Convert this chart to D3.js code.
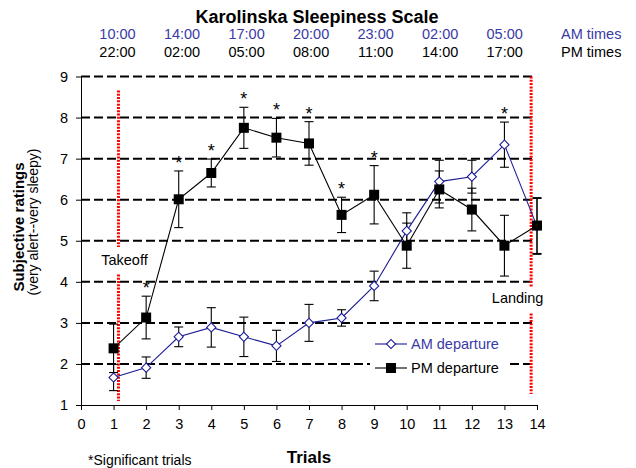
<!DOCTYPE html>
<html>
<head>
<meta charset="utf-8">
<script src="https://cdn.jsdelivr.net/npm/d3@7/dist/d3.min.js"></script>
<style>
  body { margin: 0; background: #fff; }
  svg { display: block; font-family: "Liberation Sans", Arial, sans-serif; }
</style>
</head>
<body>
<svg id="chart" width="636" height="468"></svg>
<script>
const trials = [1,2,3,4,5,6,7,8,9,10,11,12,13,14];
const amMean = [1.67,1.91,2.66,2.89,2.66,2.44,3.0,3.12,3.9,5.24,6.44,6.56,7.34,5.35];
const amErr  = [0.32,0.26,0.24,0.48,0.48,0.38,0.45,0.2,0.36,0.44,0.52,0.4,0.55,0.68];
const pmMean = [2.38,3.13,6.01,6.65,7.75,7.51,7.37,5.63,6.12,4.88,6.25,5.76,4.88,5.37];
const pmErr  = [0.59,0.52,0.69,0.34,0.5,0.47,0.53,0.43,0.71,0.55,0.45,0.52,0.74,0.68];
const sigTrials = [2,3,4,5,6,7,8,9,13];
const amTimes = ["10:00","14:00","17:00","20:00","23:00","02:00","05:00"];
const pmTimes = ["22:00","02:00","05:00","08:00","11:00","14:00","17:00"];
const xTicks = [0,1,2,3,4,5,6,7,8,9,10,11,12,13,14];
const yTicks = [1,2,3,4,5,6,7,8,9];
const gridValues = [2,3,4,5,6,7,8,9];
const events = [
  {name:"Takeoff", trial:1.15, segs:[[8.66,4.85],[4.18,1.1]], label:4.4},
  {name:"Landing", trial:13.82, segs:[[9,3.88],[3.23,1.27]], label:3.48}
];

const svg = d3.select("#chart");
const x = d3.scaleLinear().domain([0,14]).range([81,537]);
const y = d3.scaleLinear().domain([1,9]).range([405,76.5]);
const amColor = "#1c1c96";
const amText = "#3a3aa6";

// Title
svg.append("text").attr("x",317).attr("y",23).attr("text-anchor","middle")
  .attr("font-size",18).attr("font-weight","bold").text("Karolinska Sleepiness Scale");

// Times rows
const tx = d3.scalePoint().domain(d3.range(amTimes.length)).range([117.5,504.7]);
svg.append("g").selectAll("text").data(amTimes).join("text")
  .attr("x",(d,i)=>tx(i)).attr("y",39).attr("text-anchor","middle")
  .attr("font-size",14.5).attr("fill",amText).text(d=>d);
svg.append("g").selectAll("text").data(pmTimes).join("text")
  .attr("x",(d,i)=>tx(i)).attr("y",57).attr("text-anchor","middle")
  .attr("font-size",14.5).attr("fill","#000").text(d=>d);
svg.append("text").attr("x",561).attr("y",39).attr("font-size",14.5).attr("fill",amText).text("AM times");
svg.append("text").attr("x",561).attr("y",57).attr("font-size",14.5).attr("fill","#000").text("PM times");

// Gridlines
svg.append("g").selectAll("line").data(gridValues).join("line")
  .attr("x1",x(0)).attr("x2",x(14)-2).attr("y1",d=>y(d)).attr("y2",d=>y(d))
  .attr("stroke","#000").attr("stroke-width",2).attr("stroke-dasharray","9,4");

// Axes
const xAxis = svg.append("g").attr("transform",`translate(0,${y(1)})`)
  .call(d3.axisBottom(x).tickValues(xTicks).tickSize(5).tickPadding(9).tickSizeOuter(0));
const yAxis = svg.append("g").attr("transform",`translate(${x(0)},0)`)
  .call(d3.axisLeft(y).tickValues(yTicks).tickSize(5).tickPadding(8).tickSizeOuter(0));
[xAxis,yAxis].forEach(a=>{
  a.selectAll("text").attr("font-size",14.5).attr("fill","#000").attr("font-family","Liberation Sans, Arial, sans-serif");
  a.selectAll("line").attr("stroke","#000");
  a.select(".domain").attr("stroke","#000");
});

// Red event lines
events.forEach(ev=>{
  ev.segs.forEach(s=>{
    svg.append("line").attr("x1",x(ev.trial)).attr("x2",x(ev.trial))
      .attr("y1",y(s[0])).attr("y2",y(s[1]))
      .attr("stroke","#ff0000").attr("stroke-width",3).attr("stroke-dasharray","2,1.3");
  });
});
svg.append("text").attr("x",x(events[0].trial)+6).attr("y",y(events[0].label)).attr("text-anchor","middle")
  .attr("font-size",14.5).text(events[0].name);
svg.append("text").attr("x",x(events[1].trial)-13.5).attr("y",y(events[1].label)).attr("text-anchor","middle")
  .attr("font-size",14.5).text(events[1].name);

// Legend background
svg.append("rect").attr("x",370).attr("y",331).attr("width",137).attr("height",48).attr("fill","#fff");

// Lines
const line = d3.line().x((d,i)=>x(trials[i])).y(d=>y(d));
svg.append("path").datum(amMean).attr("d",line).attr("fill","none").attr("stroke",amColor).attr("stroke-width",1.1);
svg.append("path").datum(pmMean).attr("d",line).attr("fill","none").attr("stroke","#000").attr("stroke-width",1.1);

// Error bars
function errBars(mean, err){
  const g = svg.append("g").attr("stroke","#000").attr("stroke-width",1.1);
  mean.forEach((m,i)=>{
    const cx = x(trials[i]);
    g.append("line").attr("x1",cx).attr("x2",cx).attr("y1",y(m+err[i])).attr("y2",y(m-err[i]));
    [m+err[i], m-err[i]].forEach(v=>{
      g.append("line").attr("x1",cx-4.5).attr("x2",cx+4.5).attr("y1",y(v)).attr("y2",y(v));
    });
  });
}
errBars(amMean, amErr);
errBars(pmMean, pmErr);

// Markers
svg.append("g").selectAll("path").data(amMean).join("path")
  .attr("d", d3.symbol().type(d3.symbolSquare).size(42))
  .attr("transform",(d,i)=>`translate(${x(trials[i])},${y(d)}) rotate(45)`)
  .attr("fill","#fff").attr("stroke",amColor).attr("stroke-width",1.1);
svg.append("g").selectAll("rect").data(pmMean).join("rect")
  .attr("x",(d,i)=>x(trials[i])-5).attr("y",d=>y(d)-5).attr("width",10).attr("height",10)
  .attr("fill","#000");

// Significance asterisks
svg.append("g").selectAll("text").data(sigTrials).join("text")
  .attr("x",d=>x(d)).attr("y",d=>{
    const i = trials.indexOf(d);
    return y(Math.max(amMean[i]+amErr[i], pmMean[i]+pmErr[i])) - 2;
  })
  .attr("text-anchor","middle").attr("font-size",18).text("*");

// Legend
const legend = svg.append("g");
legend.append("line").attr("x1",375).attr("x2",407).attr("y1",344).attr("y2",344).attr("stroke",amColor).attr("stroke-width",1.1);
legend.append("path").attr("d",d3.symbol().type(d3.symbolSquare).size(42))
  .attr("transform","translate(391,344) rotate(45)").attr("fill","#fff").attr("stroke",amColor).attr("stroke-width",1.1);
legend.append("text").attr("x",411).attr("y",349).attr("font-size",14.5).attr("fill",amText).text("AM departure");
legend.append("line").attr("x1",375).attr("x2",407).attr("y1",368).attr("y2",368).attr("stroke","#000").attr("stroke-width",1.1);
legend.append("rect").attr("x",386).attr("y",363).attr("width",10).attr("height",10).attr("fill","#000");
legend.append("text").attr("x",411).attr("y",373).attr("font-size",14.5).attr("fill","#000").text("PM departure");

// Axis titles
svg.append("text").attr("x",309).attr("y",462.5).attr("text-anchor","middle")
  .attr("font-size",17).attr("font-weight","bold").text("Trials");
svg.append("text").attr("x",88).attr("y",465).attr("font-size",14).text("*Significant trials");
svg.append("text").attr("transform","translate(24,227) rotate(-90)").attr("text-anchor","middle")
  .attr("font-size",15).attr("font-weight","bold").text("Subjective ratings");
svg.append("text").attr("transform","translate(38,222) rotate(-90)").attr("text-anchor","middle")
  .attr("font-size",14).text("(very alert--very sleepy)");
</script>
</body>
</html>
